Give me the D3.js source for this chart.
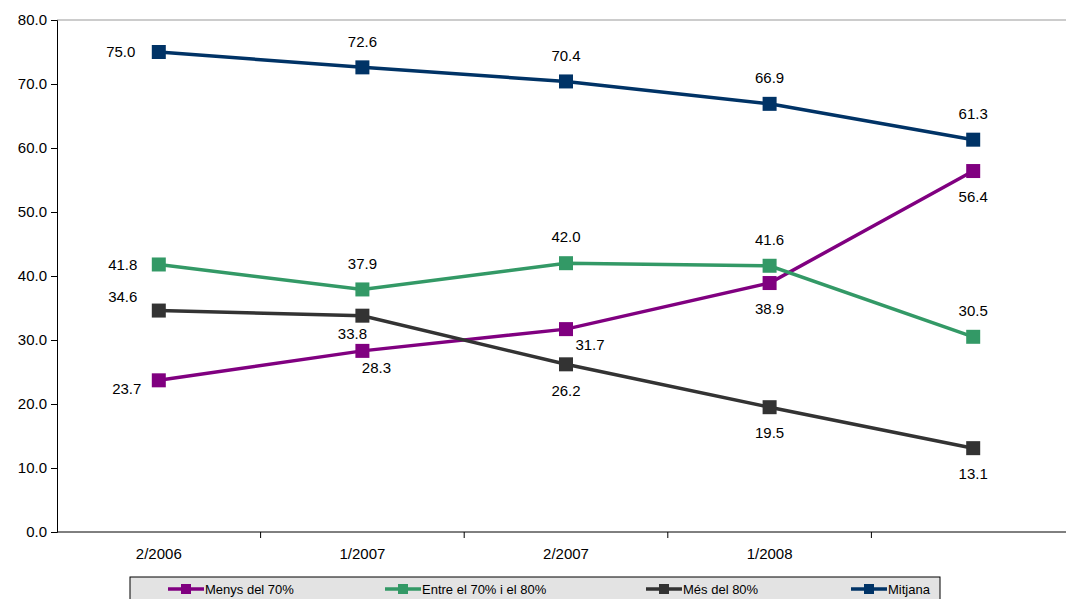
<!DOCTYPE html>
<html><head><meta charset="utf-8">
<script src="https://cdn.jsdelivr.net/npm/d3@7"></script>
<style>body{margin:0;background:#fff}svg{display:block;font-family:"Liberation Sans",Arial,sans-serif}</style>
</head><body><svg width="1066" height="599"></svg>
<script>
var categories = ['2/2006', '1/2007', '2/2007', '1/2008', ''];
var seriesNames = ['Menys del 70%', 'Entre el 70% i el 80%', 'Més del 80%', 'Mitjana'];
var colors = ['#800080', '#339966', '#333333', '#003366'];
var menys = [23.7, 28.3, 31.7, 38.9, 56.4];
var entre = [41.8, 37.9, 42.0, 41.6, 30.5];
var mes = [34.6, 33.8, 26.2, 19.5, 13.1];
var mitjana = [75.0, 72.6, 70.4, 66.9, 61.3];
var yTicks = [0, 10, 20, 30, 40, 50, 60, 70, 80];
// label offsets per point [dx, dy]
var labelOff = [
  [[-32, 8], [14, 17], [24, 16], [0, 26], [0, 26]],
  [[-36, 0], [0, -26], [0, -26], [0, -26], [0, -26]],
  [[-36, -14], [-10, 18], [0, 26], [0, 26], [0, 26]],
  [[-38, 0], [0, -26], [0, -26], [0, -26], [0, -26]]
];
var data = [menys, entre, mes, mitjana];

var svg = d3.select('svg');
var x = d3.scaleBand().domain(categories.map(function (c, i) { return i; })).range([57, 1075]);
var y = d3.scaleLinear().domain([0, 80]).range([532, 20]);

svg.append('line').attr('x1', 57).attr('x2', 1066).attr('y1', 20).attr('y2', 20)
  .attr('stroke', '#999').attr('stroke-width', 1);

var ya = svg.append('g').attr('transform', 'translate(57,0)')
  .call(d3.axisLeft(y).tickValues(yTicks).tickFormat(d3.format('.1f')).tickSize(6).tickPadding(4));
ya.selectAll('text').style('font-size', '15px').attr('fill', '#000');
ya.select('.domain').attr('stroke', '#000');

var xa = svg.append('g').attr('transform', 'translate(0,532)')
  .call(d3.axisBottom(x).tickSize(0).tickFormat(function (i) { return categories[i]; }).tickPadding(16));
xa.selectAll('text').style('font-size', '15px').attr('fill', '#000');
xa.select('.domain').attr('d', 'M57,0H1066').attr('stroke', '#000');
categories.forEach(function (c, i) {
  if (i === 0) return;
  svg.append('line').attr('x1', x(i)).attr('x2', x(i)).attr('y1', 532).attr('y2', 538).attr('stroke', '#000');
});

var cx = function (i) { return x(i) + x.bandwidth() / 2; };
var line = d3.line().x(function (d, i) { return cx(i); }).y(function (d) { return y(d); });

data.forEach(function (vals, s) {
  svg.append('path').datum(vals).attr('d', line).attr('fill', 'none')
    .attr('stroke', colors[s]).attr('stroke-width', 3.5);
  svg.selectAll('.m' + s).data(vals).enter().append('rect')
    .attr('x', function (d, i) { return cx(i) - 7; })
    .attr('y', function (d) { return y(d) - 7; })
    .attr('width', 14).attr('height', 14).attr('fill', colors[s]);
  svg.selectAll('.l' + s).data(vals).enter().append('text')
    .attr('x', function (d, i) { return cx(i) + labelOff[s][i][0]; })
    .attr('y', function (d, i) { return y(d) + labelOff[s][i][1]; })
    .attr('dy', '0.35em').attr('text-anchor', 'middle').style('font-size', '15px')
    .text(function (d) { return d.toFixed(1); });
});

var lg = svg.append('g');
lg.append('rect').attr('x', 130).attr('y', 577).attr('width', 810).attr('height', 30)
  .attr('fill', '#e3e3e3').attr('stroke', '#000');
var lx = [168, 385, 646, 851];
seriesNames.forEach(function (n, s) {
  var g = lg.append('g').attr('transform', 'translate(' + lx[s] + ',589)');
  g.append('line').attr('x1', 0).attr('x2', 36).attr('stroke', colors[s]).attr('stroke-width', 3.5);
  g.append('rect').attr('x', 13).attr('y', -5).attr('width', 10).attr('height', 10).attr('fill', colors[s]);
  g.append('text').attr('x', 37).attr('dy', '0.35em').style('font-size', '13px').text(n);
});
</script></body></html>
